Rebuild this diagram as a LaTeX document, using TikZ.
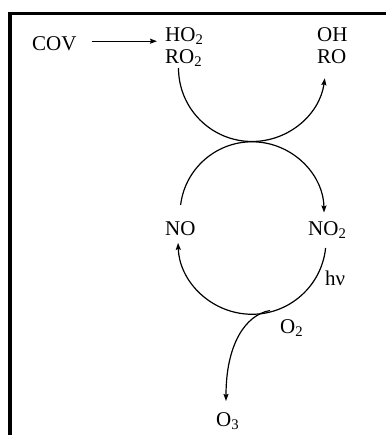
\documentclass[tikz,border=0pt]{standalone}
\usepackage{fontspec}
\setmainfont{Liberation Serif}
\usetikzlibrary{arrows.meta}
\begin{document}
\begin{tikzpicture}[x=1pt,y=-1pt,
  lbl/.style={inner sep=0pt, anchor=base west, font=\fontsize{21}{24}\selectfont},
  conn/.style={line width=1.2pt, -{Stealth[length=7pt,width=5pt,inset=1pt]}}]
\useasboundingbox (0,0) rectangle (385,435);
\fill[white] (0,0) rectangle (385,435);
% frame (right and bottom edges lie outside the picture)
\draw[line width=3.6pt] (9.8,440) -- (9.8,13.7) -- (392,13.7);
% labels
\node[lbl] (cov) at (32,51) {COV};
\node[lbl] (ho2) at (165,41.5) {HO\textsubscript{2}};
\node[lbl] (ro2) at (165,63.5) {RO\textsubscript{2}};
\node[lbl] (oh) at (317,41.5) {OH};
\node[lbl] (ro) at (317,63.5) {RO};
\node[lbl] (no) at (165,235) {NO};
\node[lbl] (no2) at (308,235) {NO\textsubscript{2}};
\node[lbl] (hv) at (325,285) {hν};
\node[lbl] (o2) at (280,333) {O\textsubscript{2}};
\node[lbl] (o3) at (216,426.5) {O\textsubscript{3}};
% COV -> HO2
\coordinate (covR) at ([xshift=15pt,yshift=3pt]cov.east);
\draw[conn, shorten >=8pt] (covR) -- (covR -| ho2.west);
% upper arc RO2 -> RO
\coordinate (u0) at (178.5,68);
\draw[conn] (u0) arc[start angle=180, end angle=8, radius=73.5];
% middle arc NO -> NO2
\coordinate (m0) at (180.6,205);
\draw[conn] (m0) arc[start angle=187, end angle=359, radius=72];
% lower arc NO2 -> NO
\coordinate (b0) at (325.6,248);
\draw[conn] (b0) arc[start angle=6, end angle=178, radius=74];
% O2 branch to O3
\coordinate (br) at (270,310.5);
\draw[conn] (br) .. controls (245,315) and (226,345) .. (226,401);
\end{tikzpicture}
\end{document}
